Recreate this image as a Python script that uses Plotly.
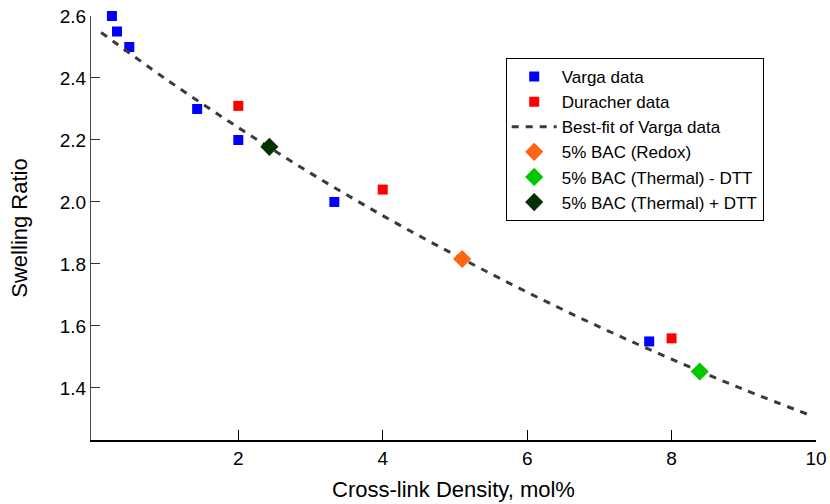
import plotly.graph_objects as go

# Varga data
varga_x = [0.25, 0.32, 0.49, 1.43, 2.0, 3.33, 7.69]
varga_y = [2.60, 2.55, 2.50, 2.30, 2.20, 2.00, 1.55]

# Duracher data
durach_x = [2.0, 4.0, 8.0]
durach_y = [2.31, 2.04, 1.56]

# Best-fit curve of the Varga data (sampled points)
fit_x = [0.1, 1, 2, 3, 4, 5, 6, 7, 8, 9, 9.95]
fit_y = [2.547, 2.396, 2.240, 2.093, 1.956, 1.829, 1.709, 1.597, 1.493, 1.395, 1.309]

# 5% BAC samples
redox_x, redox_y = [5.10], [1.816]
therm_minus_x, therm_minus_y = [8.39], [1.453]
therm_plus_x, therm_plus_y = [2.43], [2.178]

x_ticks = [2, 4, 6, 8, 10]
y_ticks = [1.4, 1.6, 1.8, 2.0, 2.2, 2.4, 2.6]

FONT = "Arial, Liberation Sans, sans-serif"

fig = go.Figure()
fig.add_trace(go.Scatter(x=varga_x, y=varga_y, mode="markers", name="Varga data",
                         cliponaxis=False,
                         marker=dict(symbol="square", size=10, color="#0000FF")))
fig.add_trace(go.Scatter(x=durach_x, y=durach_y, mode="markers", name="Duracher data",
                         cliponaxis=False,
                         marker=dict(symbol="square", size=10, color="#FF0000")))
fig.add_trace(go.Scatter(x=fit_x, y=fit_y, mode="lines", name="Best-fit of Varga data",
                         line=dict(color="#3a3a3a", width=3, dash="7px,7px", shape="spline")))
fig.add_trace(go.Scatter(x=redox_x, y=redox_y, mode="markers", name="5% BAC (Redox)",
                         marker=dict(symbol="diamond", size=14, color="#FF6410")))
fig.add_trace(go.Scatter(x=therm_minus_x, y=therm_minus_y, mode="markers",
                         name="5% BAC (Thermal) - DTT",
                         marker=dict(symbol="diamond", size=14, color="#00C800")))
fig.add_trace(go.Scatter(x=therm_plus_x, y=therm_plus_y, mode="markers",
                         name="5% BAC (Thermal) + DTT",
                         marker=dict(symbol="diamond", size=14, color="#003300")))

fig.update_layout(
    width=830, height=504,
    margin=dict(l=91, r=14, t=16, b=64),
    paper_bgcolor="white", plot_bgcolor="white",
    font=dict(family=FONT, size=19, color="black"),
    showlegend=True,
    legend=dict(x=0.572, y=0.901, xanchor="left", yanchor="top",
                bordercolor="black", borderwidth=1, bgcolor="white",
                itemwidth=45,
                font=dict(family=FONT, size=17), tracegroupgap=0),
)
fig.update_xaxes(
    range=[-0.04, 10], tickvals=x_ticks, ticktext=[str(v) for v in x_ticks],
    ticks="inside", ticklen=10, tickcolor="black", tickwidth=1,
    showline=True, linecolor="black", linewidth=2, showgrid=False, zeroline=False,
    automargin=False,
    tickfont=dict(size=19), title=dict(text="Cross-link Density, mol%",
                                       font=dict(size=22), standoff=14),
)
fig.update_yaxes(
    range=[1.232, 2.6], tickvals=y_ticks, ticktext=[f"{v:.1f}" for v in y_ticks],
    ticks="inside", ticklen=9, tickcolor="#333", tickwidth=1,
    showline=True, linecolor="#444", linewidth=1, showgrid=False, zeroline=False,
    automargin=False,
    tickfont=dict(size=19), title=dict(text="Swelling Ratio", font=dict(size=22), standoff=26),
)

fig.write_html("out.html")
